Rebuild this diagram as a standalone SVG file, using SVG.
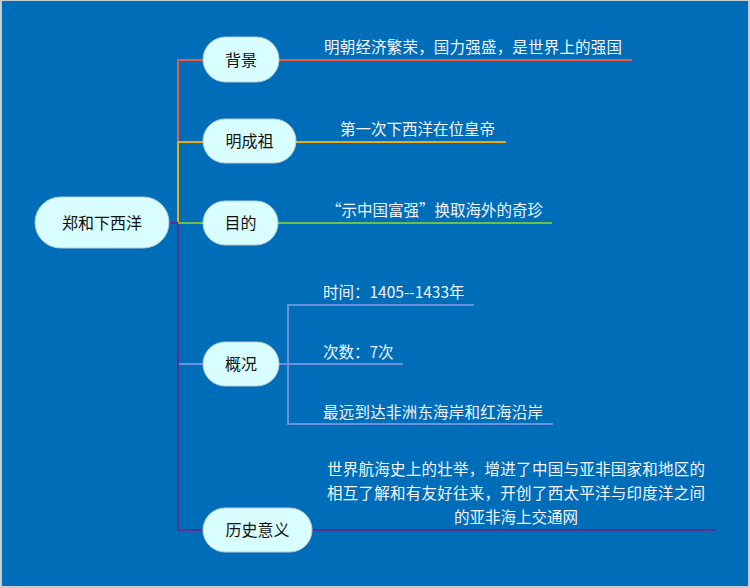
<svg xmlns="http://www.w3.org/2000/svg" width="750" height="588" viewBox="0 0 750 588">
<style>
.node rect{fill:#D9FEFF;stroke:#B9CCD8;stroke-width:1}
.node text{font-family:"Noto Sans CJK SC","Noto Sans",sans-serif;font-size:16px;fill:#111;text-anchor:middle}
.lbl{font-family:"Noto Sans CJK SC","Noto Sans",sans-serif;font-size:15.5px;fill:#F2F6FA}
#connectors path,#connectors line{fill:none;stroke-width:2}
</style>
<rect x="0" y="0" width="750" height="588" fill="#C8CDD2"/>
<rect x="2" y="1" width="746" height="585" fill="#006DB8"/>
<g id="connectors">
<line x1="178" y1="60" x2="178" y2="142" stroke="#EE5A3C"/>
<line x1="178" y1="142" x2="178" y2="223" stroke="#F5A900"/>
<line x1="178" y1="223" x2="178" y2="530" stroke="#5A2D91"/>
<line x1="169" y1="223" x2="178" y2="223" stroke="#5A2D91"/>
<line x1="177" y1="60" x2="203" y2="60" stroke="#EE5A3C"/>
<line x1="279" y1="60" x2="632" y2="60" stroke="#EE5A3C"/>
<line x1="177" y1="142" x2="203" y2="142" stroke="#F5A900"/>
<line x1="296" y1="142" x2="506" y2="142" stroke="#F5A900"/>
<line x1="178" y1="223" x2="203" y2="223" stroke="#6CC04A"/>
<line x1="278" y1="223" x2="552" y2="223" stroke="#6CC04A"/>
<line x1="179" y1="364" x2="203" y2="364" stroke="#6D90DA"/>
<line x1="279" y1="364" x2="403" y2="364" stroke="#6D90DA"/>
<path d="M474 305 H288 V424 H553" stroke="#6D90DA"/>
<line x1="177" y1="530" x2="203" y2="530" stroke="#5A2D91"/>
<line x1="312" y1="530" x2="715" y2="530" stroke="#5A2D91"/>
</g>
<g id="root" class="node"><rect x="35" y="197" width="134" height="51" rx="25.5"/><text x="102" y="229">郑和下西洋</text></g>
<g id="n-beijing" class="node"><rect x="203" y="37" width="76" height="45" rx="22.5"/><text x="241" y="66">背景</text></g>
<g id="n-mingchengzu" class="node"><rect x="203" y="119" width="93" height="44" rx="22"/><text x="249.5" y="147">明成祖</text></g>
<g id="n-mudi" class="node"><rect x="203" y="201" width="75" height="44" rx="22"/><text x="240.5" y="229">目的</text></g>
<g id="n-gaikuang" class="node"><rect x="203" y="342" width="76" height="44" rx="22"/><text x="241" y="370">概况</text></g>
<g id="n-lishi" class="node"><rect x="203" y="508" width="109" height="44" rx="22"/><text x="257.5" y="536">历史意义</text></g>
<g id="labels">
<text class="lbl" x="324" y="53" textLength="298">明朝经济繁荣，国力强盛，是世界上的强国</text>
<text class="lbl" x="340" y="135" textLength="155">第一次下西洋在位皇帝</text>
<text class="lbl" x="326" y="216" textLength="217">“示中国富强”换取海外的奇珍</text>
<text class="lbl" x="323" y="298">时间：1405--1433年</text>
<text class="lbl" x="323" y="358">次数：7次</text>
<text class="lbl" x="323" y="418" textLength="220">最远到达非洲东海岸和红海沿岸</text>
<text class="lbl" x="327" y="475" textLength="378">世界航海史上的壮举，增进了中国与亚非国家和地区的</text>
<text class="lbl" x="327" y="499" textLength="378">相互了解和有友好往来，开创了西太平洋与印度洋之间</text>
<text class="lbl" x="516" y="523" text-anchor="middle">的亚非海上交通网</text>
</g>
</svg>
